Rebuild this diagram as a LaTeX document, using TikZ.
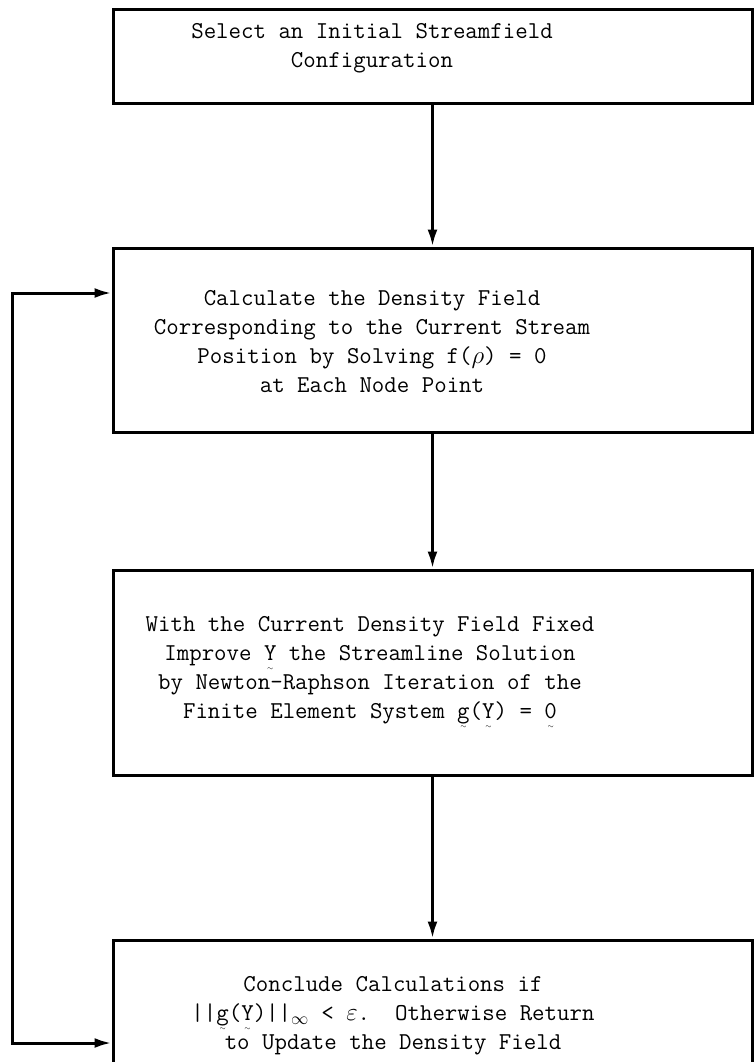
\documentclass[tikz,border=0pt]{standalone}
\usepackage{amsmath, amssymb}
\usepackage{fontspec}
\usetikzlibrary{positioning,arrows.meta}
\newcommand{\vtl}[1]{{\ooalign{#1\cr\hidewidth\raisebox{-0.42em}[0pt][0pt]{\scriptsize$\sim$}\hidewidth\cr}}}
\tikzset{
  flowarrow/.style={-{Latex[length=17pt, width=10pt]}, line width=3pt},
  stepbox/.style={draw, line width=3pt, minimum width=639pt, inner sep=0pt},
  steptext/.style={font=\ttfamily\fontsize{24.2}{29}\selectfont, align=center, inner sep=0pt}
}

\begin{document}
\begin{tikzpicture}[x=1pt, y=-1pt]
  \clip (0,0) rectangle (754,1062);
  % boxes
  \node[stepbox, minimum height=94pt] (sel) at (432.5,57) {};
  \node[stepbox, minimum height=184pt] (calc) at (432.5,340) {};
  \node[stepbox, minimum height=205pt] (impr) at (432.5,672.5) {};
  \node[stepbox, minimum height=206pt] (concl) at (432.5,1043) {};
  % texts
  \node[steptext] (selT) at (372,48) {Select an Initial Streamfield\\Configuration};
  \node[steptext] (calcT) at (372,342) {Calculate the Density Field\\Corresponding to the Current Stream\\Position by Solving f($\rho$) = 0\\at Each Node Point};
  \node[steptext] (imprT) at (370,670) {With the Current Density Field Fixed\\Improve \vtl{Y} the Streamline Solution\\by Newton-Raphson Iteration of the\\Finite Element System \vtl{g}(\vtl{Y}) = \vtl{0}};
  \node[steptext] (conclT) at (393,1016) {Conclude Calculations if\\||\vtl{g}(\vtl{Y})||$_\infty$ < $\varepsilon$.~~Otherwise Return\\to Update the Density Field};
  % connectors
  \draw[flowarrow] (sel) -- (calc);
  \draw[flowarrow] (calc) -- (impr);
  \draw[flowarrow] (impr) -- (concl);
  \coordinate (back) at (12,293);
  \draw[flowarrow, {Latex[length=17pt, width=10pt]}-{Latex[length=17pt, width=10pt]}] (concl.west) -| (back) -- (back -| calc.west);
\end{tikzpicture}
\end{document}
